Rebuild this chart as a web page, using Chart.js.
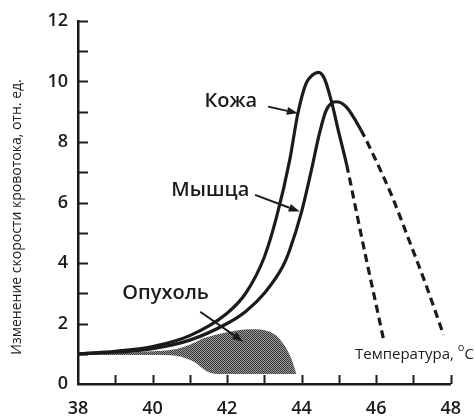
<!DOCTYPE html>
<html lang="ru">
<head>
<meta charset="utf-8">
<title>Кровоток при нагреве</title>
<script src="https://cdn.jsdelivr.net/npm/chart.js@4.4.1/dist/chart.umd.min.js"></script>
<style>
  html, body { margin: 0; padding: 0; background: #fff; }
  #wrap { width: 475px; height: 416px; position: relative; }
</style>
</head>
<body>
<div id="wrap"><canvas id="flow-chart"></canvas></div>
<script>
// Кожа: температура (°C) и изменение кровотока (отн. ед.)
const skinTemp = [38, 39, 40, 41, 42, 42.5, 43, 43.33, 43.68, 43.9, 44.12, 44.3, 44.45, 44.61, 44.79, 45.0, 45.21, 45.46, 45.72, 45.99, 46.21];
const skinFlow = [1.0, 1.08, 1.24, 1.6, 2.34, 3.0, 4.2, 5.53, 7.4, 8.95, 9.94, 10.22, 10.3, 10.1, 9.39, 8.3, 7.24, 5.75, 4.21, 2.67, 1.4];
const skinDashFrom = 45.21;

// Мышца
const muscleTemp = [38, 39, 40, 41, 42, 42.5, 43, 43.5, 43.68, 44.0, 44.25, 44.48, 44.66, 44.92, 45.19, 45.59, 45.99, 46.43, 46.88, 47.32, 47.81];
const muscleFlow = [1.0, 1.05, 1.17, 1.45, 2.0, 2.4, 3.0, 3.9, 4.43, 5.7, 7.0, 8.29, 9.05, 9.33, 9.17, 8.4, 7.4, 6.19, 4.76, 3.33, 1.62];
const muscleDashFrom = 45.59;

// Опухоль: верхняя и нижняя граница заштрихованной области
const tumorTopTemp = [38, 39, 40, 40.48, 41, 41.37, 42.08, 42.61, 43.15, 43.5, 43.72, 43.86];
const tumorTopFlow = [1.0, 1.02, 1.08, 1.12, 1.3, 1.51, 1.73, 1.81, 1.73, 1.35, 0.85, 0.33];
const tumorLowTemp = [38, 40, 40.48, 41.1, 41.46, 41.72, 43.86];
const tumorLowFlow = [0.96, 0.96, 0.95, 0.74, 0.41, 0.33, 0.33];

// Оси
const xMin = 38, xMax = 48;
const yMin = 0, yMax = 12;

const INK = '#1b1b1b';
const FONT = '"Open Sans", "DejaVu Sans", sans-serif';

function toPoints(xs, ys) {
  return xs.map((x, i) => ({ x: x, y: ys[i] }));
}

// штриховка "в точку" для опухоли
function makeStipple() {
  const c = document.createElement('canvas');
  c.width = 2; c.height = 2;
  const g = c.getContext('2d');
  g.fillStyle = '#9a9a9a';
  g.fillRect(0, 0, 2, 2);
  g.fillStyle = '#383838';
  g.fillRect(0, 0, 1, 1);
  g.fillRect(1, 1, 1, 1);
  return g.createPattern(c, 'repeat');
}

// подписи и стрелки (в координатах данных)
const curveLabels = [
  { text: 'Кожа', x: 42.1, y: 9.35, from: [43.1, 9.17], to: [43.9, 8.95] },
  { text: 'Мышца', x: 41.55, y: 6.4, from: [42.75, 6.25], to: [43.95, 5.7] },
  { text: 'Опухоль', x: 40.35, y: 3.0, from: [41.28, 2.39], to: [42.43, 1.4] }
];

const decorPlugin = {
  id: 'decor',
  afterDraw(chart) {
    const ctx = chart.ctx;
    const xs = chart.scales.x, ys = chart.scales.y;
    const area = chart.chartArea;
    ctx.save();

    // засечки внутрь графика
    ctx.strokeStyle = INK;
    ctx.lineWidth = 2;
    for (let v = yMin + 1; v <= yMax; v++) {
      const py = Math.round(ys.getPixelForValue(v)) + 0.5;
      ctx.beginPath();
      ctx.moveTo(area.left, py);
      ctx.lineTo(area.left + 10, py);
      ctx.stroke();
    }
    for (let v = xMin + 1; v <= xMax; v++) {
      const px = Math.round(xs.getPixelForValue(v)) + 0.5;
      ctx.beginPath();
      ctx.moveTo(px, area.bottom);
      ctx.lineTo(px, area.bottom - 9);
      ctx.stroke();
    }

    // стрелки
    ctx.fillStyle = INK;
    ctx.lineWidth = 2;
    curveLabels.forEach(l => {
      const x1 = xs.getPixelForValue(l.from[0]), y1 = ys.getPixelForValue(l.from[1]);
      const x2 = xs.getPixelForValue(l.to[0]), y2 = ys.getPixelForValue(l.to[1]);
      const a = Math.atan2(y2 - y1, x2 - x1);
      const hl = 11, hw = 4;
      const bx = x2 - hl * Math.cos(a), by = y2 - hl * Math.sin(a);
      ctx.beginPath();
      ctx.moveTo(x1, y1);
      ctx.lineTo(bx, by);
      ctx.stroke();
      ctx.beginPath();
      ctx.moveTo(x2, y2);
      ctx.lineTo(bx + hw * Math.sin(a), by - hw * Math.cos(a));
      ctx.lineTo(bx - hw * Math.sin(a), by + hw * Math.cos(a));
      ctx.closePath();
      ctx.fill();

      ctx.font = '600 20px ' + FONT;
      ctx.textAlign = 'center';
      ctx.textBaseline = 'middle';
      ctx.fillText(l.text, xs.getPixelForValue(l.x), ys.getPixelForValue(l.y));
    });

    // подпись оси X
    ctx.font = '15px ' + FONT;
    ctx.textAlign = 'left';
    ctx.textBaseline = 'alphabetic';
    const t1 = 'Температура, ';
    let px = 355, py = 359;
    ctx.fillText(t1, px, py);
    px += ctx.measureText(t1).width;
    ctx.font = '11px ' + FONT;
    ctx.fillText('o', px, py - 8);
    px += ctx.measureText('o').width;
    ctx.font = '15px ' + FONT;
    ctx.fillText('C', px, py);

    // подпись оси Y
    ctx.translate(17, 217);
    ctx.rotate(-Math.PI / 2);
    ctx.textAlign = 'center';
    ctx.textBaseline = 'middle';
    ctx.font = '14px ' + FONT;
    ctx.fillText('Изменение скорости кровотока, отн. ед.', 0, 0);
    ctx.restore();
  }
};

function lineDataset(label, xs, ys, dashFrom) {
  return {
    label: label,
    data: toPoints(xs, ys),
    borderColor: INK,
    borderWidth: 3.2,
    pointRadius: 0,
    fill: false,
    cubicInterpolationMode: 'monotone',
    segment: {
      borderDash: c => c.p0.parsed.x >= dashFrom - 1e-6 ? [8, 5] : undefined
    }
  };
}

const ctx = document.getElementById('flow-chart');
new Chart(ctx, {
  type: 'line',
  data: {
    datasets: [
      lineDataset('Кожа', skinTemp, skinFlow, skinDashFrom),
      lineDataset('Мышца', muscleTemp, muscleFlow, muscleDashFrom),
      {
        label: 'Опухоль (верх)',
        data: toPoints(tumorTopTemp, tumorTopFlow),
        borderWidth: 0,
        pointRadius: 0,
        fill: false,
        cubicInterpolationMode: 'monotone'
      },
      {
        label: 'Опухоль',
        data: toPoints(tumorLowTemp, tumorLowFlow),
        borderWidth: 0,
        pointRadius: 0,
        backgroundColor: makeStipple(),
        fill: '-1',
        cubicInterpolationMode: 'monotone'
      }
    ]
  },
  options: {
    responsive: true,
    maintainAspectRatio: false,
    animation: false,
    layout: { padding: { top: 21, right: 23, left: 0, bottom: 0 } },
    scales: {
      x: {
        type: 'linear',
        min: xMin, max: xMax,
        grid: { drawOnChartArea: false, drawTicks: false },
        border: { color: INK, width: 2.5 },
        ticks: {
          stepSize: 1, autoSkip: false, maxRotation: 0, padding: 14,
          color: INK, font: { family: FONT, size: 18, weight: '600' },
          callback: v => (v % 2 === 0 ? v : '')
        },
        afterFit: s => { s.height = 32; }
      },
      y: {
        min: yMin, max: yMax,
        grid: { drawOnChartArea: false, drawTicks: false },
        border: { color: INK, width: 2.5 },
        ticks: {
          stepSize: 1, autoSkip: false, padding: 10,
          color: INK, font: { family: FONT, size: 18, weight: '600' },
          callback: v => (v % 2 === 0 ? v : '')
        },
        afterFit: s => { s.width = 78; }
      }
    },
    plugins: {
      legend: { display: false },
      tooltip: { enabled: false }
    }
  },
  plugins: [decorPlugin]
});
</script>
</body>
</html>
